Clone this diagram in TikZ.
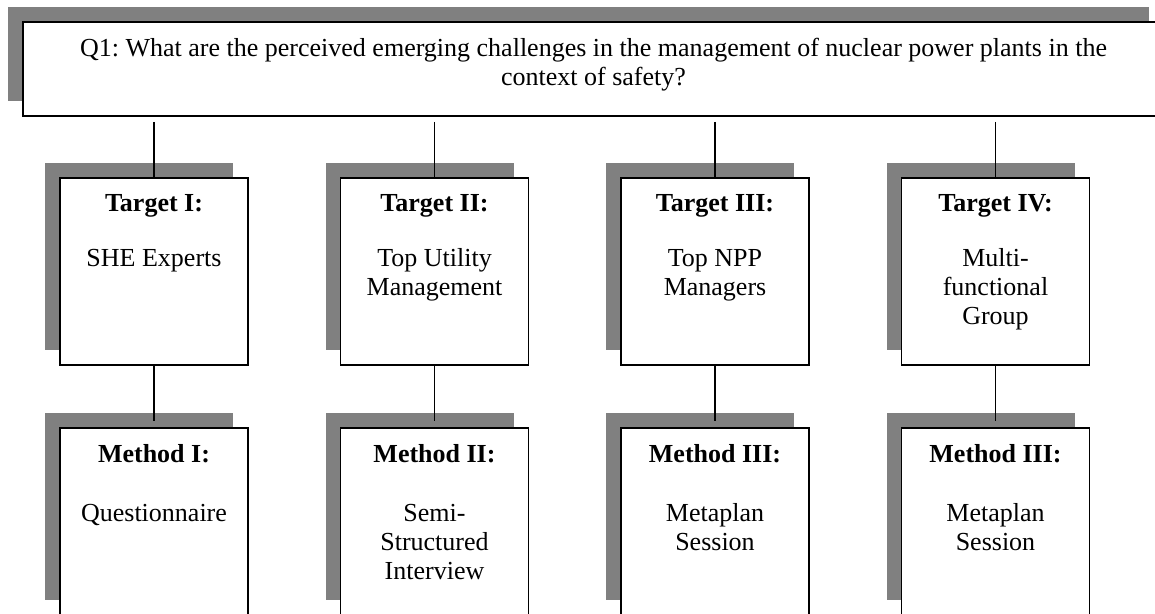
\documentclass[tikz,border=0pt]{standalone}
\usepackage{fontspec}
\setmainfont{Liberation Serif}
\usepackage{tikz}
\usetikzlibrary{positioning, shadows}
\frenchspacing

\begin{document}
\begin{tikzpicture}[
                node distance=140.25pt,
                question/.style={rectangle, draw, line width=0.8pt, fill=white,
                        inner xsep=5pt, inner ysep=8pt, minimum width=570.5pt, minimum height=47pt,
                        drop shadow={shadow xshift=-7.5pt, shadow yshift=7.5pt, opacity=1, fill=gray},
                        font=\fontsize{13pt}{14.5pt}\selectfont,
                        execute at begin node={\begin{minipage}[c][31pt][t]{560pt}\centering},
                        execute at end node={\end{minipage}}},
                target/.style={rectangle, draw, line width=0.8pt, fill=white,
                        inner xsep=2pt, inner ysep=8pt, minimum width=94pt, minimum height=93.5pt,
                        drop shadow={shadow xshift=-7.5pt, shadow yshift=7.5pt, opacity=1, fill=gray},
                        font=\fontsize{13pt}{14.5pt}\selectfont,
                        execute at begin node={\begin{minipage}[c][77.5pt][t]{90pt}\centering},
                        execute at end node={\end{minipage}}},
                method/.style={target},
                link/.style={line width=0.6pt}
        ]

        \useasboundingbox (0,0) rectangle (577.5pt,-307pt);

        % Define the question node
        \node[question] (q) at (296.75pt,-34.5pt) {Q1: What are the perceived emerging challenges in the management of nuclear power plants in the\\context of safety?};

        % Define the target nodes
        \node[target] (t1) at (77pt,-135.75pt) {\textbf{Target I:}\\[13pt]SHE Experts};
        \node[target, right of=t1] (t2) {\textbf{Target II:}\\[13pt]Top Utility\\Management};
        \node[target, right of=t2] (t3) {\textbf{Target III:}\\[13pt]Top NPP\\Managers};
        \node[target, right of=t3] (t4) {\textbf{Target IV:}\\[13pt]Multi-\\functional\\Group};

        % Define the method nodes
        \node[method, node distance=125pt, below of=t1] (m1) {\textbf{Method I:}\\[15pt]Questionnaire};
        \node[method, node distance=125pt, below of=t2] (m2) {\textbf{Method II:}\\[15pt]Semi-\\Structured\\Interview};
        \node[method, node distance=125pt, below of=t3] (m3) {\textbf{Method III:}\\[15pt]Metaplan\\Session};
        \node[method, node distance=125pt, below of=t4] (m4) {\textbf{Method III:}\\[15pt]Metaplan\\Session};

        % Draw the lines
        \draw[link, shorten <=2.5pt] (t1.north |- q.south) -- (t1.north);
        \draw[link, shorten <=2.5pt] (t2.north |- q.south) -- (t2.north);
        \draw[link, shorten <=2.5pt] (t3.north |- q.south) -- (t3.north);
        \draw[link, shorten <=2.5pt] (t4.north |- q.south) -- (t4.north);

        \draw[link, shorten >=3pt] (t1) -- (m1);
        \draw[link, shorten >=3pt] (t2) -- (m2);
        \draw[link, shorten >=3pt] (t3) -- (m3);
        \draw[link, shorten >=3pt] (t4) -- (m4);
\end{tikzpicture}
\end{document}
